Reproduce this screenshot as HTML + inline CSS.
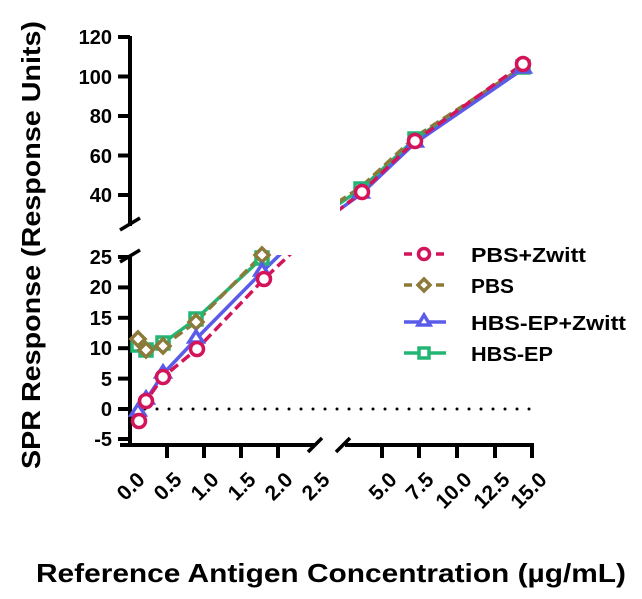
<!DOCTYPE html>
<html><head><style>body{margin:0;background:#fff}</style></head><body>
<svg width="642" height="594" xmlns="http://www.w3.org/2000/svg" font-family="Liberation Sans, sans-serif" font-weight="bold">
<defs>
<clipPath id="lo"><rect x="125" y="255" width="420" height="200"/></clipPath>
<clipPath id="hi"><rect x="340" y="20" width="220" height="210"/></clipPath>
</defs>
<g stroke="#000" stroke-width="4" fill="none">
<line x1="130" y1="36" x2="130" y2="226"/>
<line x1="130" y1="255" x2="130" y2="443"/>
<line x1="120" y1="445" x2="315" y2="445"/>
<line x1="345" y1="445" x2="534" y2="445"/>
<g stroke-width="3.5">
<line x1="120" y1="230" x2="140" y2="218"/><line x1="120" y1="262" x2="140" y2="250"/>
<line x1="308" y1="452" x2="322" y2="438"/><line x1="336" y1="452" x2="350" y2="438"/>
</g>
<g>
<line x1="118" y1="37" x2="130" y2="37"/><line x1="118" y1="76.5" x2="130" y2="76.5"/><line x1="118" y1="116" x2="130" y2="116"/><line x1="118" y1="155.5" x2="130" y2="155.5"/><line x1="118" y1="195" x2="130" y2="195"/>
<line x1="118" y1="257" x2="130" y2="257"/><line x1="118" y1="287.4" x2="130" y2="287.4"/><line x1="118" y1="317.8" x2="130" y2="317.8"/><line x1="118" y1="348.2" x2="130" y2="348.2"/><line x1="118" y1="378.6" x2="130" y2="378.6"/><line x1="118" y1="409" x2="130" y2="409"/><line x1="118" y1="439" x2="130" y2="439"/>
<line x1="167" y1="445" x2="167" y2="458"/><line x1="204" y1="445" x2="204" y2="458"/><line x1="241" y1="445" x2="241" y2="458"/><line x1="278" y1="445" x2="278" y2="458"/>
<line x1="382" y1="445" x2="382" y2="458"/><line x1="419" y1="445" x2="419" y2="458"/><line x1="457" y1="445" x2="457" y2="458"/><line x1="495" y1="445" x2="495" y2="458"/><line x1="532" y1="445" x2="532" y2="458"/>
</g>
</g>
<line x1="145" y1="409" x2="530" y2="409" stroke="#000" stroke-width="3" stroke-dasharray="0 12" stroke-linecap="round"/>
<g font-size="20" text-anchor="end">
<text x="112" y="44">120</text><text x="112" y="84">100</text><text x="112" y="123">80</text><text x="112" y="163">60</text><text x="112" y="202">40</text>
<text x="112" y="264">25</text><text x="112" y="294">20</text><text x="112" y="325">15</text><text x="112" y="355">10</text><text x="112" y="386">5</text><text x="112" y="416">0</text><text x="112" y="446">-5</text>
</g>
<g font-size="21" text-anchor="end">
<text transform="translate(146,481) rotate(-45)">0.0</text>
<text transform="translate(183,481) rotate(-45)">0.5</text>
<text transform="translate(220,481) rotate(-45)">1.0</text>
<text transform="translate(257,481) rotate(-45)">1.5</text>
<text transform="translate(294,481) rotate(-45)">2.0</text>
<text transform="translate(331,481) rotate(-45)">2.5</text>
<text transform="translate(398,481) rotate(-45)">5.0</text>
<text transform="translate(435,481) rotate(-45)">7.5</text>
<text transform="translate(473,481) rotate(-45)">10.0</text>
<text transform="translate(511,481) rotate(-45)">12.5</text>
<text transform="translate(548,481) rotate(-45)">15.0</text>
</g>
<text transform="translate(40,245) rotate(-90)" font-size="26" text-anchor="middle" textLength="448" lengthAdjust="spacingAndGlyphs">SPR Response (Response Units)</text>
<text x="331" y="582" font-size="26" text-anchor="middle" textLength="590" lengthAdjust="spacingAndGlyphs">Reference Antigen Concentration (µg/mL)</text>
<g clip-path="url(#lo)" fill="none" stroke-width="3.5">
<polyline stroke="#22b573" points="138,345 146,350 163,343 196,319 262,258 300,222"/>
<polyline stroke="#8b7a3a" stroke-dasharray="10 5" points="138,339 146,350 163,346 196,322 262,255 300,220"/>
<polyline stroke="#5b5bea" points="138,412 146,400 163,374 196,339 262,272 300,235"/>
<polyline stroke="#d4145a" stroke-dasharray="10 5" points="139,421 146,401 163,377 197,349 264,279 300,245"/>
</g>
<g clip-path="url(#hi)" fill="none" stroke-width="3.5">
<polyline stroke="#22b573" points="300,230 361,189 415,139 523,67"/>
<polyline stroke="#8b7a3a" stroke-dasharray="10 5" points="300,227 361,187 415,137 523,67"/>
<polyline stroke="#5b5bea" points="300,238 361,194 415,143 523,69"/>
<polyline stroke="#d4145a" stroke-dasharray="10 5" points="300,240 362,192 415,141 523,64"/>
</g>
<g fill="#fff" stroke-width="3.5">
<g stroke="#22b573"><rect x="132" y="339" width="12" height="12"/><rect x="140" y="344" width="12" height="12"/><rect x="157" y="337" width="12" height="12"/><rect x="190" y="313" width="12" height="12"/><rect x="256" y="252" width="12" height="12"/><rect x="355" y="183" width="12" height="12"/><rect x="409" y="133" width="12" height="12"/><rect x="517" y="61" width="12" height="12"/></g>
<g stroke="#8b7a3a"><path d="M138 332l7 7-7 7-7-7z"/><path d="M146 343l7 7-7 7-7-7z"/><path d="M163 339l7 7-7 7-7-7z"/><path d="M196 315l7 7-7 7-7-7z"/><path d="M262 248l7 7-7 7-7-7z"/></g>
<g stroke="#5b5bea"><path d="M138 404l7 11h-14z"/><path d="M146 392l7 11h-14z"/><path d="M163 366l7 11h-14z"/><path d="M196 331l7 11h-14z"/><path d="M262 264l7 11h-14z"/><path d="M361 186l7 11h-14z"/><path d="M415 135l7 11h-14z"/><path d="M523 61l7 11h-14z"/></g>
<g stroke="#d4145a"><circle cx="139" cy="421" r="6.5"/><circle cx="146" cy="401" r="6.5"/><circle cx="163" cy="377" r="6.5"/><circle cx="197" cy="349" r="6.5"/><circle cx="264" cy="279" r="6.5"/><circle cx="362" cy="192" r="6.5"/><circle cx="415" cy="141" r="6.5"/><circle cx="523" cy="64" r="6.5"/></g>
</g>
<g stroke-width="3.5" fill="#fff">
<line x1="404" y1="254" x2="446" y2="254" stroke="#d4145a" stroke-dasharray="8 8"/><circle cx="424" cy="254" r="5.5" stroke="#d4145a"/>
<line x1="404" y1="285" x2="446" y2="285" stroke="#8b7a3a" stroke-dasharray="8 8"/><path d="M424 279l6 6-6 6-6-6z" stroke="#8b7a3a"/>
<line x1="404" y1="322" x2="446" y2="322" stroke="#5b5bea"/><path d="M424 315l6 10h-12z" stroke="#5b5bea"/>
<line x1="404" y1="353" x2="446" y2="353" stroke="#22b573"/><rect x="419" y="348" width="10" height="10" stroke="#22b573"/>
</g>
<g font-size="20">
<text x="471" y="262" textLength="115" lengthAdjust="spacingAndGlyphs">PBS+Zwitt</text><text x="471" y="293" textLength="43" lengthAdjust="spacingAndGlyphs">PBS</text><text x="471" y="330" textLength="155" lengthAdjust="spacingAndGlyphs">HBS-EP+Zwitt</text><text x="471" y="361" textLength="82" lengthAdjust="spacingAndGlyphs">HBS-EP</text>
</g>
</svg>
</body></html>
